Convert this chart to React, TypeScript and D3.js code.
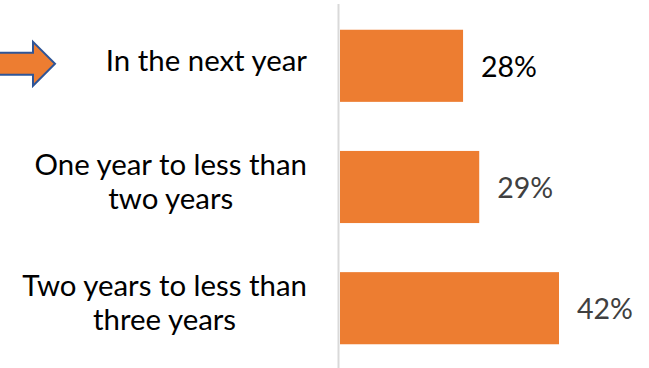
import React, { useEffect, useRef } from "react";
import * as d3 from "d3";

const categories: string[][] = [
  ["In the next year"],
  ["One year to less than", "two years"],
  ["Two years to less than", "three years"],
];
// bar lengths as drawn (same units as the longest bar's 42)
const values: number[] = [23.6, 26.7, 42];
const valueLabels: string[] = ["28%", "29%", "42%"];
const labelColors: string[] = ["#000000", "#404040", "#404040"];

const W = 649;
const H = 368;
const FONT = "Lato, 'Open Sans', sans-serif";
const FS = 29.4;
const VFS = 28.5;

export default function App() {
  const ref = useRef<SVGSVGElement>(null);

  useEffect(() => {
    const svg = d3.select(ref.current);
    svg.selectAll("*").remove();

    const y = d3
      .scaleBand<number>()
      .domain(d3.range(categories.length))
      .range([5.5, 368.5])
      .paddingInner(0.405)
      .paddingOuter(0.2);
    const x = d3.scaleLinear().domain([0, 42]).range([340, 559]);

    // axis line
    svg
      .append("line")
      .attr("x1", 338.5)
      .attr("x2", 338.5)
      .attr("y1", 4)
      .attr("y2", H)
      .attr("stroke", "#d9d9d9")
      .attr("stroke-width", 2);

    // bars
    svg
      .selectAll("rect.bar")
      .data(values)
      .join("rect")
      .attr("class", "bar")
      .attr("x", x(0))
      .attr("y", (_, i) => y(i)!)
      .attr("width", (d) => x(d) - x(0))
      .attr("height", y.bandwidth())
      .attr("fill", "#ED7D31");

    // value labels
    svg
      .selectAll("text.val")
      .data(values)
      .join("text")
      .attr("class", "val")
      .attr("x", (d) => x(d) + 18)
      .attr("y", (_, i) => y(i)! + y.bandwidth() / 2 + 11)
      .attr("font-family", FONT)
      .attr("font-size", VFS)
      .attr("fill", (_, i) => labelColors[i])
      .text((_, i) => valueLabels[i]);

    // category labels: centered lines, block right edge at 308
    const lineH = 34;
    categories.forEach((lines, i) => {
      const cy = y(i)! + y.bandwidth() / 2;
      const g = svg.append("g");
      const texts = lines.map((ln, j) =>
        g
          .append("text")
          .attr("font-family", FONT)
          .attr("font-size", FS)
          .attr("fill", "#000")
          .attr("text-anchor", "middle")
          .attr("y", cy + 5 + (j - (lines.length - 1) / 2) * lineH)
          .text(ln)
      );
      const maxW = d3.max(texts, (t) => (t.node() as SVGTextElement).getComputedTextLength()) || 0;
      texts.forEach((t) => t.attr("x", 307 - maxW / 2));
    });

    // arrow pointing at the first category
    const ay = y(0)! + y.bandwidth() / 2 - 2;
    const arrow = d3.path();
    arrow.moveTo(-5, ay - 11);
    arrow.lineTo(33, ay - 11);
    arrow.lineTo(33, ay - 22);
    arrow.lineTo(55, ay);
    arrow.lineTo(33, ay + 22);
    arrow.lineTo(33, ay + 11);
    arrow.lineTo(-5, ay + 11);
    arrow.closePath();
    svg
      .append("path")
      .attr("d", arrow.toString())
      .attr("fill", "#ED7D31")
      .attr("stroke", "#2F5597")
      .attr("stroke-width", 2)
      .attr("stroke-linejoin", "miter");
  }, []);

  return (
    <svg
      ref={ref}
      width={W}
      height={H}
      style={{ position: "absolute", left: 0, top: 0, background: "#fff" }}
    />
  );
}
